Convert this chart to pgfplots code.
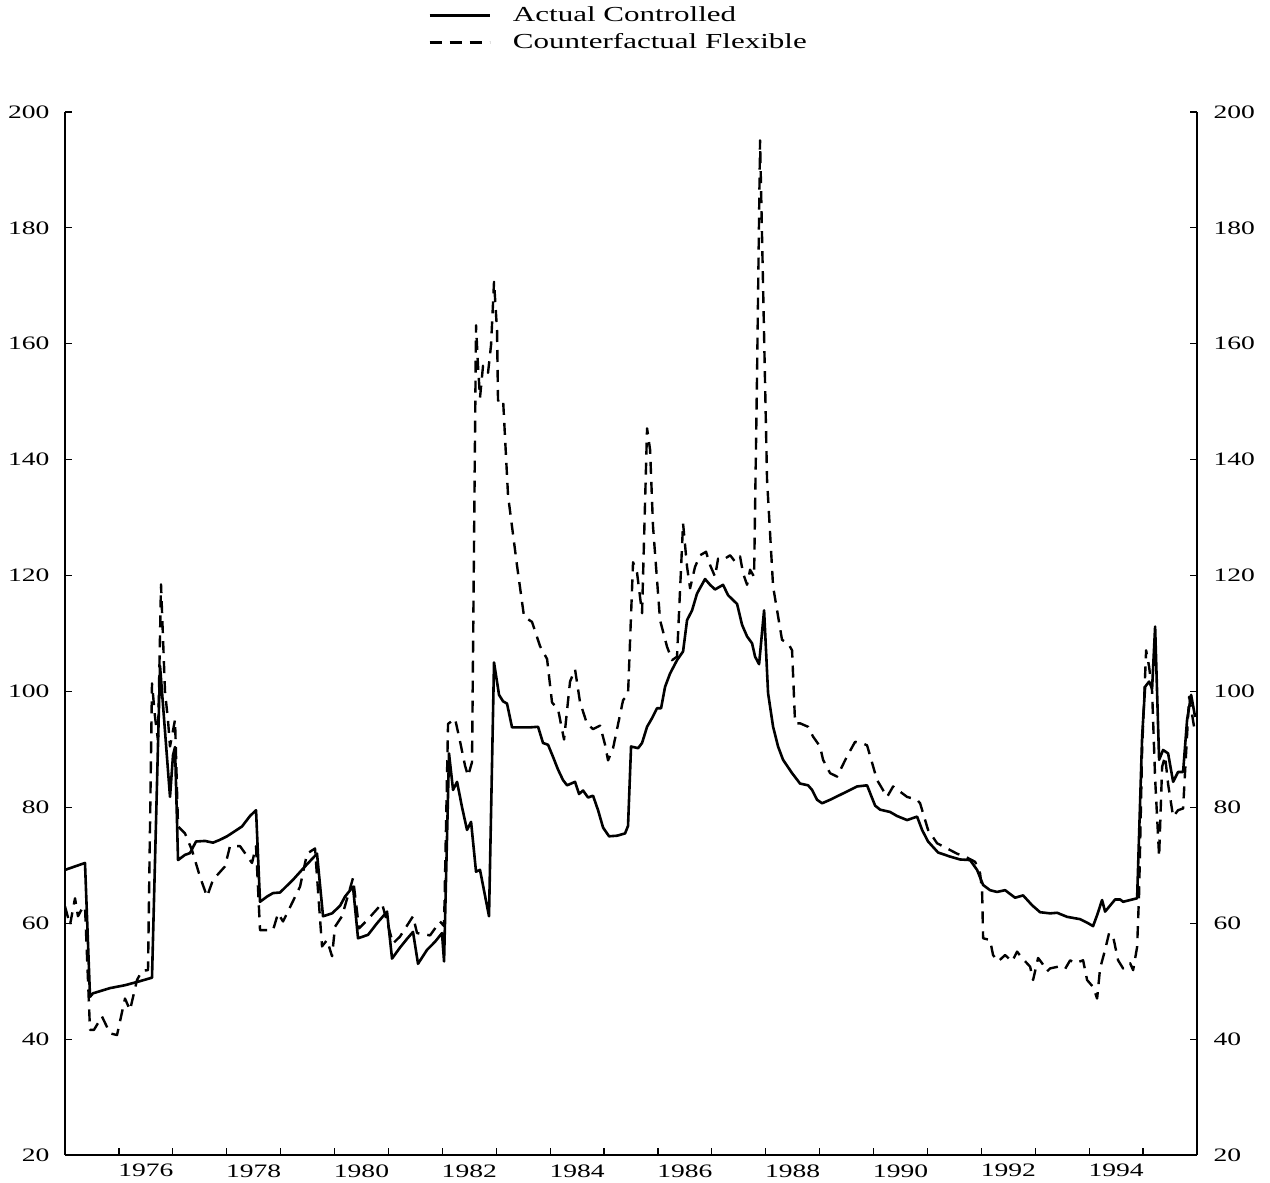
\documentclass[border=0pt]{standalone}
\usepackage{fontspec}
\setmainfont{Liberation Serif}[FakeStretch=1.45]
\usepackage{pgfplots}
\usepackage{pgfplotstable}
\pgfplotsset{compat=1.18}
\pgfplotstableread{
x y
1975.000 69.2
1975.371 70.4
1975.464 47.3
1975.519 47.9
1975.835 48.8
1976.113 49.3
1976.391 50.0
1976.614 50.6
1976.763 104.4
1976.948 81.8
1977.004 89.0
1977.041 90.4
1977.097 70.9
1977.226 71.8
1977.319 72.1
1977.430 74.1
1977.597 74.2
1977.746 73.9
1977.876 74.4
1978.006 75.0
1978.154 75.9
1978.284 76.7
1978.432 78.5
1978.544 79.5
1978.618 63.7
1978.748 64.6
1978.859 65.2
1978.989 65.3
1979.230 67.5
1979.453 69.8
1979.675 72.0
1979.787 61.2
1979.954 61.7
1980.102 63.0
1980.195 64.6
1980.343 66.3
1980.436 57.4
1980.622 58.0
1980.789 60.0
1980.974 62.0
1981.067 53.9
1981.215 55.8
1981.345 57.3
1981.456 58.5
1981.549 53.0
1981.716 55.4
1981.865 56.8
1981.994 58.3
1982.032 53.4
1982.124 89.3
1982.199 83.0
1982.273 84.4
1982.366 80.0
1982.458 76.1
1982.533 77.5
1982.625 68.9
1982.699 69.2
1982.866 61.2
1982.959 105.0
1983.052 99.4
1983.126 98.3
1983.200 97.9
1983.293 93.8
1983.442 93.8
1983.627 93.8
1983.776 93.9
1983.868 91.1
1983.961 90.8
1984.054 88.7
1984.147 86.5
1984.239 84.7
1984.314 83.8
1984.462 84.4
1984.536 82.3
1984.610 82.9
1984.703 81.7
1984.796 82.0
1984.889 79.5
1984.982 76.5
1985.093 75.0
1985.241 75.1
1985.390 75.5
1985.445 76.8
1985.501 90.5
1985.631 90.2
1985.705 91.1
1985.798 93.9
1985.891 95.4
1985.983 97.1
1986.058 97.1
1986.132 100.8
1986.225 103.1
1986.354 105.4
1986.466 106.9
1986.540 112.3
1986.633 114.0
1986.725 116.9
1986.874 119.4
1986.967 118.4
1987.059 117.6
1987.208 118.4
1987.301 116.6
1987.468 115.1
1987.560 111.5
1987.653 109.5
1987.746 108.3
1987.802 106.0
1987.876 104.7
1987.969 114.0
1988.043 99.7
1988.136 93.9
1988.228 90.5
1988.321 88.2
1988.488 85.9
1988.636 84.1
1988.785 83.8
1988.859 83.0
1988.952 81.3
1989.045 80.7
1989.193 81.3
1989.434 82.4
1989.694 83.6
1989.879 83.8
1990.028 80.3
1990.121 79.6
1990.306 79.2
1990.436 78.5
1990.622 77.8
1990.807 78.4
1990.900 76.1
1991.011 74.1
1991.197 72.2
1991.419 71.5
1991.605 71.0
1991.790 70.9
1991.920 69.2
1992.032 66.6
1992.161 65.7
1992.291 65.4
1992.440 65.7
1992.625 64.4
1992.774 64.8
1992.941 63.1
1993.089 61.9
1993.275 61.7
1993.405 61.8
1993.590 61.1
1993.831 60.7
1993.961 60.1
1994.072 59.5
1994.147 61.4
1994.239 64.0
1994.295 62.0
1994.481 64.1
1994.573 64.1
1994.629 63.7
1994.889 64.3
1994.982 92.2
1995.037 100.8
1995.111 101.7
1995.167 100.5
1995.223 111.2
1995.297 88.2
1995.371 89.9
1995.464 89.3
1995.557 84.4
1995.649 86.1
1995.742 86.1
1995.816 95.1
1995.891 99.4
1995.965 95.6
}\actual
\pgfplotstableread{
x y
1975.000 62.9
1975.093 59.7
1975.186 64.3
1975.241 61.2
1975.315 62.5
1975.371 62.9
1975.464 41.6
1975.538 41.6
1975.686 43.9
1975.835 41.0
1975.965 40.7
1976.113 47.0
1976.206 45.0
1976.336 50.2
1976.429 51.8
1976.540 51.9
1976.614 101.4
1976.670 95.6
1976.725 91.6
1976.781 118.5
1976.855 100.0
1976.911 95.0
1976.948 90.5
1977.041 95.1
1977.097 76.7
1977.226 75.5
1977.356 72.6
1977.505 68.0
1977.635 64.6
1977.746 67.5
1977.968 69.8
1978.061 73.3
1978.247 73.3
1978.469 70.4
1978.544 73.3
1978.618 58.8
1978.859 58.8
1978.952 61.7
1979.045 60.3
1979.360 66.3
1979.490 72.0
1979.638 72.9
1979.768 56.0
1979.861 57.1
1979.954 54.3
1980.009 59.4
1980.139 61.2
1980.343 67.8
1980.455 59.1
1980.603 60.5
1980.881 63.4
1981.085 56.5
1981.215 57.7
1981.456 61.2
1981.531 58.3
1981.772 57.9
1981.957 60.3
1982.032 59.5
1982.106 94.4
1982.236 95.3
1982.328 91.4
1982.421 87.2
1982.477 85.4
1982.551 87.8
1982.625 163.2
1982.662 156.2
1982.699 150.7
1982.755 156.2
1982.848 155.0
1982.904 159.8
1982.959 170.7
1983.015 162.3
1983.033 150.2
1983.126 150.5
1983.219 133.8
1983.386 121.7
1983.516 112.9
1983.664 112.0
1983.813 107.8
1983.943 105.6
1984.035 98.1
1984.147 96.9
1984.258 91.7
1984.369 101.7
1984.462 103.8
1984.555 98.1
1984.685 94.4
1984.796 93.5
1984.926 94.1
1985.019 90.8
1985.074 88.1
1985.167 90.2
1985.353 98.5
1985.445 99.5
1985.538 122.3
1985.612 120.5
1985.705 113.5
1985.798 145.4
1985.854 141.7
1985.909 128.4
1986.039 112.3
1986.169 107.7
1986.262 105.4
1986.354 106.0
1986.466 129.0
1986.540 121.5
1986.596 117.8
1986.688 121.5
1986.781 123.5
1986.892 124.1
1986.967 121.8
1987.059 119.8
1987.115 122.9
1987.208 122.7
1987.338 123.5
1987.431 122.4
1987.523 123.3
1987.579 120.4
1987.653 118.4
1987.709 121.0
1987.783 119.8
1987.839 155.0
1987.894 195.1
1987.950 170.0
1988.024 136.5
1988.136 118.1
1988.302 108.9
1988.414 108.3
1988.488 107.1
1988.544 94.5
1988.636 94.5
1988.785 93.9
1988.878 92.2
1989.007 90.5
1989.063 88.2
1989.193 85.9
1989.323 85.3
1989.508 88.8
1989.657 91.3
1989.805 91.0
1989.879 90.7
1990.065 84.7
1990.251 81.8
1990.362 83.6
1990.622 81.8
1990.807 81.3
1990.863 80.7
1991.011 76.1
1991.178 73.8
1991.364 72.9
1991.549 72.0
1991.698 71.5
1991.883 70.6
1991.976 68.6
1992.013 65.7
1992.032 57.4
1992.161 57.1
1992.217 54.5
1992.310 53.4
1992.440 54.5
1992.570 53.4
1992.662 55.1
1992.755 54.0
1992.904 52.5
1992.959 50.2
1993.052 54.0
1993.126 53.1
1993.219 51.7
1993.275 52.2
1993.423 52.5
1993.553 52.1
1993.646 53.6
1993.739 53.1
1993.887 53.6
1993.961 50.2
1994.072 49.0
1994.147 47.0
1994.202 52.2
1994.295 55.4
1994.369 58.3
1994.444 57.7
1994.536 53.6
1994.629 52.2
1994.759 53.1
1994.815 51.9
1994.889 55.9
1994.926 65.2
1994.982 90.0
1995.056 107.1
1995.111 104.3
1995.167 100.0
1995.223 85.0
1995.297 71.5
1995.353 87.0
1995.408 88.8
1995.464 84.0
1995.557 78.4
1995.649 79.5
1995.742 79.8
1995.854 99.1
1995.965 92.8
}\counter
\begin{document}
\begin{tikzpicture}
\pgfplotsset{
  common/.style={
    width=566pt, height=521.5pt, scale only axis,
    xmin=1975, xmax=1996, ymin=20, ymax=200,
    ytick={20,40,...,200},
    tick align=inside,
    major tick length=3.5pt,
    /pgf/number format/assume math mode=true,
    tick label style={font=\fontsize{9.5}{11}\selectfont},
    axis line style={line width=0.6pt},
    tick style={line width=0.6pt, black},
  }
}
\begin{axis}[common, name=ax,
  axis x line*=bottom, axis y line*=left,
  xtick={1976,1977,...,1995}, xticklabels={},
  extra x ticks={1976.5,1978.5,1980.5,1982.5,1984.5,1986.5,1988.5,1990.5,1992.5,1994.5},
  extra x tick labels={1976,1978,1980,1982,1984,1986,1988,1990,1992,1994},
  extra x tick style={major tick length=0pt},
  xticklabel style={inner sep=1pt, yshift=-3.5pt},
  yticklabel style={xshift=-4.3pt},
  legend style={draw=none, fill=none, inner sep=0pt, at={(0.3224,1)}, anchor=south west,
    xshift=-1pt, yshift=28pt, font=\fontsize{10.7}{12}\selectfont,
    row sep=0.5pt, cells={anchor=west, text height=7.5pt, text depth=0pt, inner sep=1pt}},
  legend image code/.code={\draw[#1] (0pt,0pt) -- (30pt,0pt); \path (39pt,0pt);},
  line join=round,
]
\addplot[black, line width=1.3pt] table {\actual};
\addlegendentry{Actual Controlled}
\addplot[black, line width=1.2pt, dash pattern=on 6pt off 4pt] table {\counter};
\addlegendentry{Counterfactual Flexible}
\end{axis}
\begin{axis}[common,
  axis x line=none, axis y line*=right,
  xtick=\empty,
  yticklabel style={xshift=4.8pt},
]
\end{axis}
\pgfresetboundingbox
\useasboundingbox ([xshift=-32.5pt,yshift=-14pt]ax.south west) rectangle ([xshift=36.5pt,yshift=56pt]ax.north east);
\end{tikzpicture}
\end{document}
